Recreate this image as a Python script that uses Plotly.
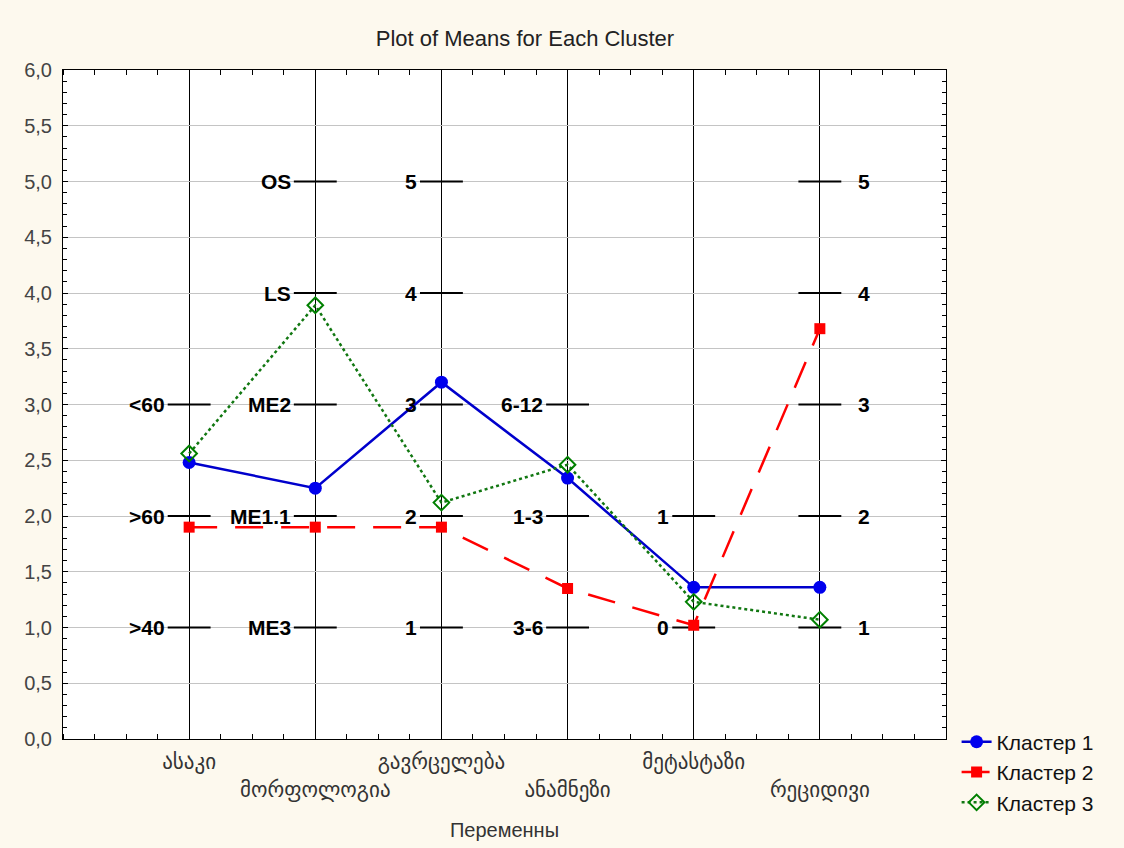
import plotly.graph_objects as go

# Variables (x categories), Georgian labels
variables = ["ასაკი", "მორფოლოგია", "გავრცელება", "ანამნეზი", "მეტასტაზი", "რეციდივი"]

# Cluster means per variable
cluster1 = [2.48, 2.25, 3.20, 2.34, 1.36, 1.36]
cluster2 = [1.90, 1.90, 1.90, 1.35, 1.02, 3.68]
cluster3 = [2.56, 3.89, 2.12, 2.46, 1.23, 1.07]

series_names = ["Кластер 1", "Кластер 2", "Кластер 3"]

# Coding scales shown on each variable's vertical axis
scale_age_text = ["<60", ">60", ">40"]
scale_age_val = [3, 2, 1]
scale_morph_text = ["OS", "LS", "ME2", "ME1.1", "ME3"]
scale_morph_val = [5, 4, 3, 2, 1]
scale_spread_text = ["5", "4", "3", "2", "1"]
scale_spread_val = [5, 4, 3, 2, 1]
scale_hist_text = ["6-12", "1-3", "3-6"]
scale_hist_val = [3, 2, 1]
scale_meta_text = ["1", "0"]
scale_meta_val = [2, 1]
scale_relapse_text = ["5", "4", "3", "2", "1"]
scale_relapse_val = [5, 4, 3, 2, 1]

scales = [
    (scale_age_text, scale_age_val),
    (scale_morph_text, scale_morph_val),
    (scale_spread_text, scale_spread_val),
    (scale_hist_text, scale_hist_val),
    (scale_meta_text, scale_meta_val),
    (scale_relapse_text, scale_relapse_val),
]

xs = list(range(len(variables)))
# staggered category labels: odd ones drop one line
tick_text = [v if i % 2 == 0 else "<br>" + v for i, v in enumerate(variables)]

fig = go.Figure()

fig.add_trace(go.Scatter(
    x=xs, y=cluster1, name=series_names[0], mode="lines+markers",
    line=dict(color="#0000CC", width=2.5),
    marker=dict(symbol="circle", size=13, color="#0000EE"),
))
fig.add_trace(go.Scatter(
    x=xs, y=cluster2, name=series_names[1], mode="lines+markers",
    line=dict(color="#FF0000", width=2.5, dash="28px,18px"),
    marker=dict(symbol="square", size=11, color="#FF0000"),
))
fig.add_trace(go.Scatter(
    x=xs, y=cluster3, name=series_names[2], mode="lines+markers",
    line=dict(color="#117711", width=2.5, dash="dot"),
    marker=dict(symbol="diamond-open", size=12, color="#008000",
                line=dict(width=2, color="#008000")),
))

half = 0.17
label_font = dict(family="Liberation Sans, Arial, sans-serif", size=21, color="black")
for i, (texts, vals) in enumerate(scales):
    last = i == len(scales) - 1
    for t, v in zip(texts, vals):
        fig.add_shape(type="line", xref="x", yref="y",
                      x0=i - half, x1=i + half, y0=v, y1=v,
                      line=dict(color="black", width=2), layer="between")
        if last:
            fig.add_annotation(x=i + 0.29, y=v, xref="x", yref="y",
                               text="<b>%s</b>" % t, showarrow=False,
                               xanchor="left", yanchor="middle", font=label_font)
        else:
            fig.add_annotation(x=i - half, y=v, xref="x", yref="y",
                               text="<b>%s</b>" % t, showarrow=False,
                               xanchor="right", yanchor="middle", xshift=-1,
                               font=label_font)

fig.update_layout(
    width=1124, height=848,
    margin=dict(l=63, r=178, t=70, b=109, autoexpand=False),
    paper_bgcolor="#FDF9EE",
    plot_bgcolor="white",
    separators=",.",
    font=dict(family="Liberation Sans, Arial, sans-serif", color="#333333"),
    title=dict(text="Plot of Means for Each Cluster", x=525 / 1124, xref="container",
               xanchor="center", y=1 - 38 / 848, yref="container", yanchor="middle",
               font=dict(size=22, color="#222222")),
    legend=dict(x=1.012, xanchor="left", y=0.026, yanchor="top",
                bgcolor="rgba(0,0,0,0)",
                font=dict(size=21, color="#111111"), tracegroupgap=0),
    showlegend=True,
)

fig.update_xaxes(
    range=[-1, 6], tickvals=xs, ticktext=tick_text, tickangle=0, automargin=False,
    showgrid=True, gridcolor="black", gridwidth=1,
    zeroline=False, showline=True, linecolor="black", linewidth=1, mirror="allticks",
    ticks="", ticklabelstandoff=4,
    tickfont=dict(family="DejaVu Sans, sans-serif", size=21, color="#333333"),
    minor=dict(ticks="inside", dtick=0.25, tick0=0, ticklen=5, tickcolor="black", showgrid=False),
    title=dict(text="Переменны", font=dict(size=20, color="#333333"), standoff=22),
)
fig.update_yaxes(
    range=[0, 6], dtick=0.5, tickformat=".1f", automargin=False,
    showgrid=True, gridcolor="#C4C4C4", gridwidth=1,
    zeroline=False, showline=True, linecolor="black", linewidth=1, mirror="allticks",
    ticks="inside", ticklen=5, tickcolor="black", ticklabelstandoff=6,
    tickfont=dict(size=20, color="#444444"),
    minor=dict(ticks="inside", dtick=0.1, ticklen=4, tickcolor="black", showgrid=False),
)

fig.write_html("out.html")
